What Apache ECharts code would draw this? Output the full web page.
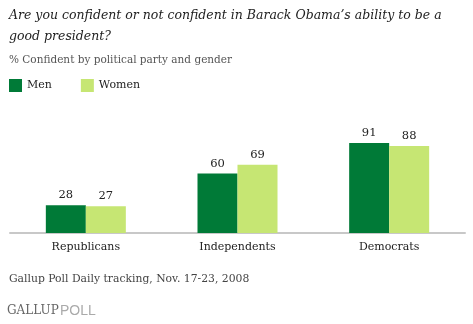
<!DOCTYPE html>
<html><head><meta charset="utf-8">
<script src="https://cdn.jsdelivr.net/npm/echarts@6/dist/echarts.min.js"></script>
<style>html,body{margin:0;padding:0;background:#fff}#c{width:473px;height:324px}</style>
</head><body><div id="c"></div>
<script>
const categories = ['Republicans', 'Independents', 'Democrats'];
const men = [28, 60, 91];
const women = [27, 69, 88];
const seriesNames = ['Men', 'Women'];

const serif = '"DejaVu Serif", Georgia, serif';
const chart = echarts.init(document.getElementById('c'));
chart.setOption({
  animation: false,
  title: [
    { text: 'Are you confident or not confident in Barack Obama\u2019s ability to be a\ngood president?', left: 4, top: 0, padding: 5,
      textStyle: { fontFamily: serif, fontStyle: 'italic', fontWeight: 'normal', fontSize: 12.5, color: '#222', lineHeight: 21 } },
    { text: '% Confident by political party and gender', left: 4, top: 50,
      textStyle: { fontFamily: serif, fontWeight: 'normal', fontSize: 10.5, color: '#555' } }
  ],
  legend: {
    left: 4, top: 74, icon: 'rect', itemWidth: 13, itemHeight: 13, itemGap: 29,
    data: seriesNames,
    textStyle: { fontFamily: serif, fontSize: 11, color: '#222' }
  },
  grid: { left: 10, right: 8, top: 134, bottom: 91 },
  xAxis: {
    type: 'category', data: categories,
    axisLine: { lineStyle: { color: '#c8c8c8', width: 2 } },
    axisTick: { show: false },
    axisLabel: { fontFamily: serif, fontSize: 11, color: '#222', margin: 9 }
  },
  yAxis: { type: 'value', min: 0, max: 100, show: false, splitLine: { show: false } },
  series: [
    { name: seriesNames[0], type: 'bar', data: men, barWidth: 40, barGap: '0%',
      itemStyle: { color: '#007A37' },
      label: { show: true, position: 'top', distance: 4, fontFamily: serif, fontSize: 11.5, color: '#222' } },
    { name: seriesNames[1], type: 'bar', data: women, barWidth: 40,
      itemStyle: { color: '#C6E673' },
      label: { show: true, position: 'top', distance: 4, fontFamily: serif, fontSize: 11.5, color: '#222' } }
  ],
  graphic: [
    { type: 'text', left: 9, top: 274, style: { text: 'Gallup Poll Daily tracking, Nov. 17-23, 2008', font: '10.8px ' + serif, fill: '#444' } },
    { type: 'text', left: 7, top: 305, style: { text: 'GALLUP', font: '12px ' + serif, fill: '#666' } },
    { type: 'text', left: 60, top: 304, style: { text: 'POLL', font: '14px Arial, "Liberation Sans", sans-serif', fill: '#aaa' } }
  ]
});
</script></body></html>
